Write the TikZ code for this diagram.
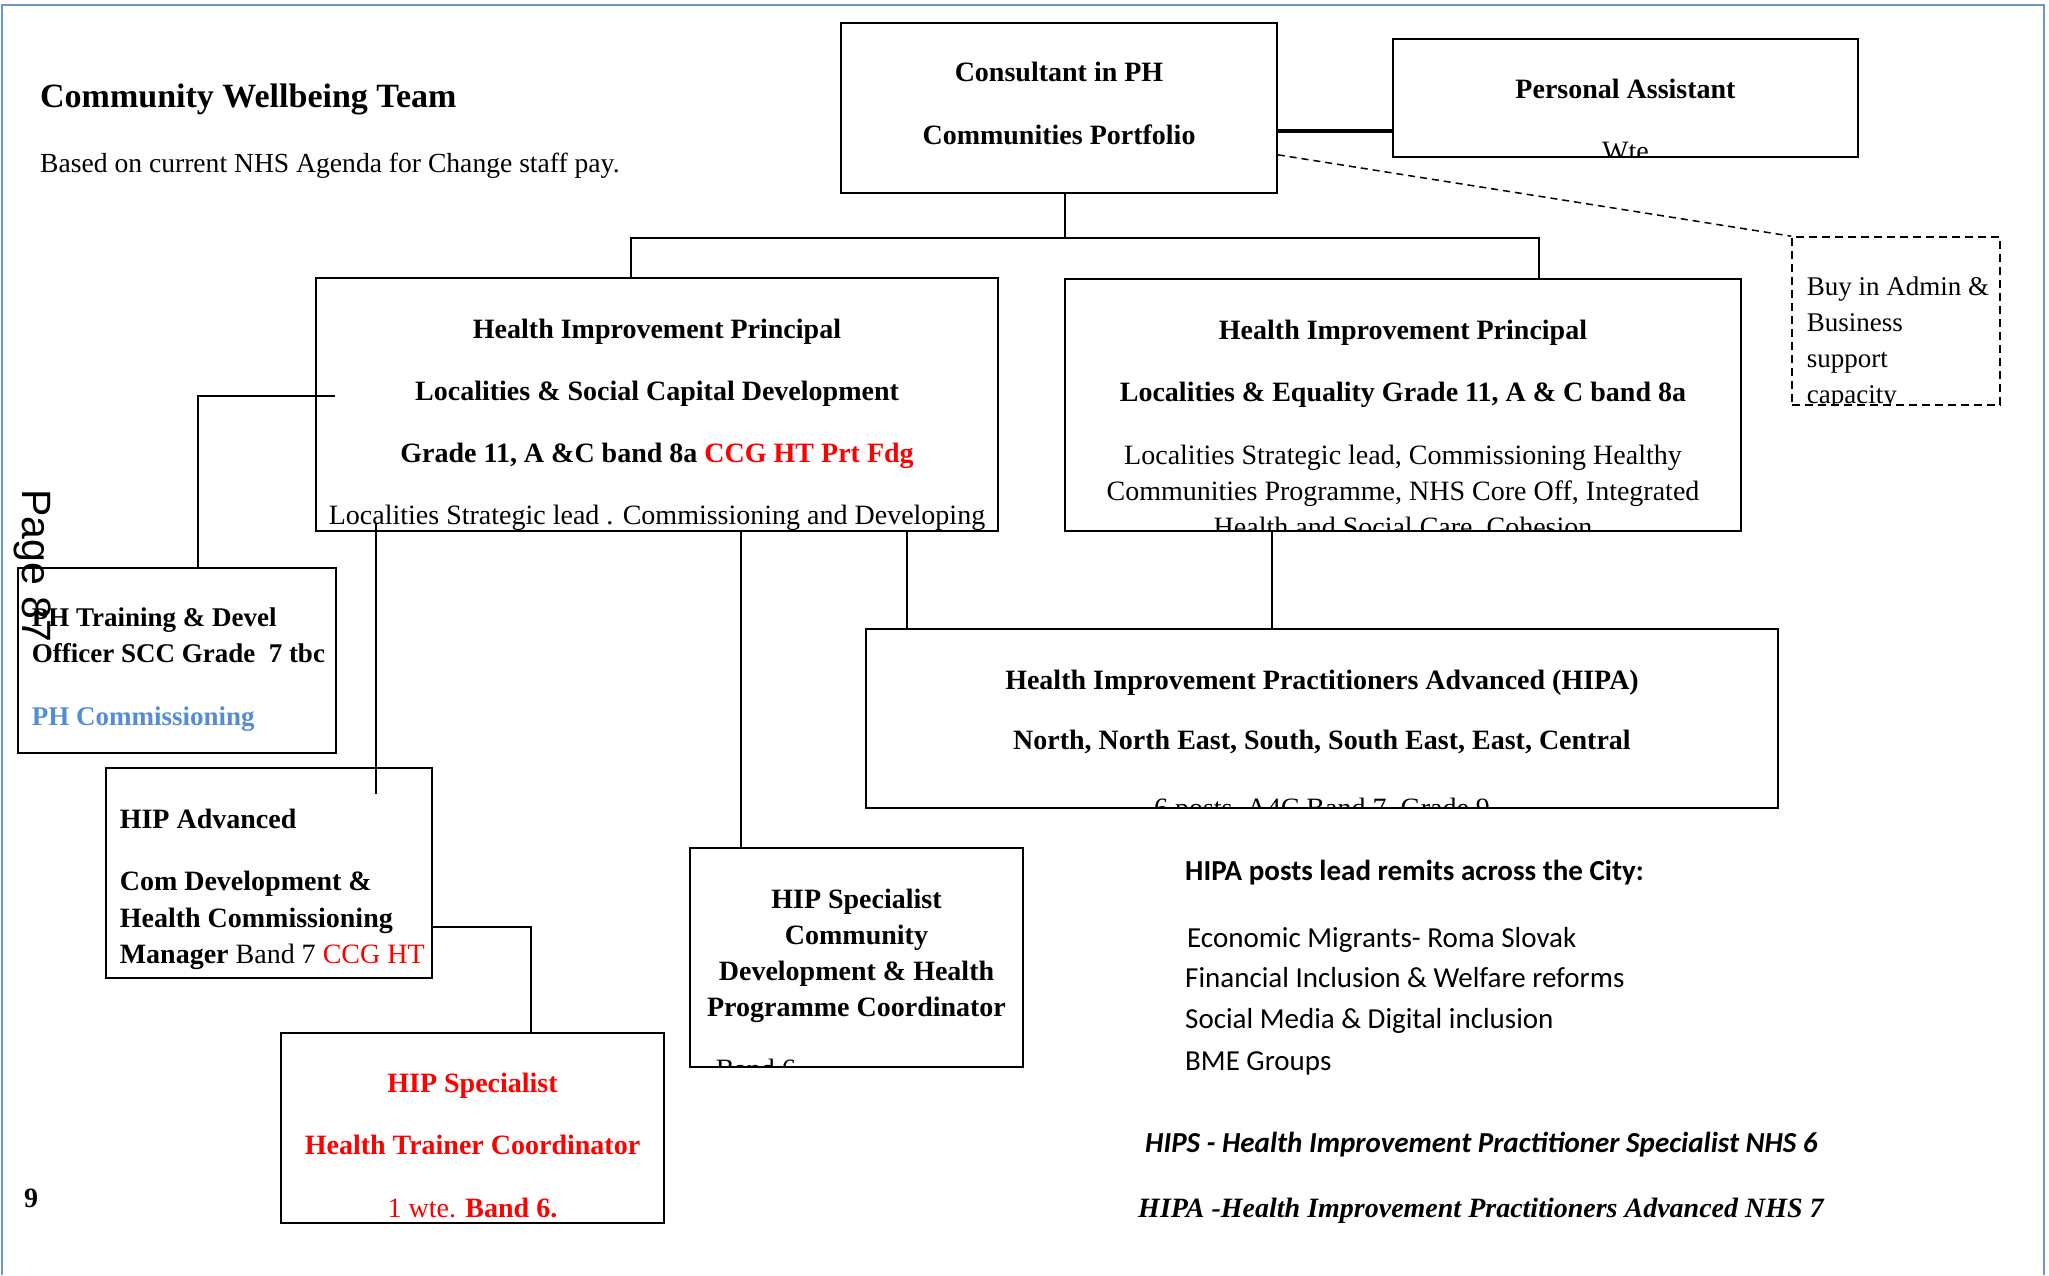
\documentclass[tikz,border=0pt]{standalone}
\usepackage{fontspec}
\setmainfont{Liberation Serif}
\newfontfamily\calibri{Carlito}
\newfontfamily\arialfont{Liberation Sans}
\usetikzlibrary{shapes.geometric, arrows}
\definecolor{pageblue}{RGB}{110,150,205}
\definecolor{commblue}{RGB}{84,141,212}
\tikzstyle{post} = [rectangle, draw=black, line width=1.6pt, inner sep=0pt]
\tikzstyle{buy} = [post, dash pattern=on 8pt off 5pt]
\tikzstyle{txt} = [draw=none, minimum width=0pt, minimum height=0pt, inner sep=0pt, align=center, font=\fontsize{28}{35}\selectfont]
\tikzstyle{ltxt} = [txt, align=left]
\tikzstyle{note} = [draw=none, minimum width=0pt, minimum height=0pt, inner sep=0pt, anchor=base west]
\tikzstyle{link} = [line width=1.5pt]
\tikzstyle{thicklink} = [line width=3.5pt]
\tikzstyle{dashlink} = [line width=1.5pt, dash pattern=on 7pt off 5pt]
\tikzstyle{pageline} = [draw=pageblue, line width=2pt]
\begin{document}
\begin{tikzpicture}[x=1pt, y=-1pt]
\useasboundingbox (0,0) rectangle (2049,1275);
\draw [pageline] (2,1275) -- (2,5) -- (2044,5) -- (2044,1275);

\node (t1) [note, font=\fontsize{34}{40}\selectfont\bfseries] at (40,107) {Community Wellbeing Team};
\node (t2) [note, font=\fontsize{27.6}{35}\selectfont] at (40,172) {Based on current NHS Agenda for Change staff pay.};

\node (n1) [post, minimum width=436pt, minimum height=170pt, path picture={
  \node [txt, anchor=north] at ([yshift=-38pt]path picture bounding box.north)
    {\textbf{Consultant in PH}\\[28pt]\textbf{Communities Portfolio}};
}] at (1059,108) {};
\node (n2) [post, minimum width=465pt, minimum height=118pt, path picture={
  \node [txt, anchor=north] at ([yshift=-39pt]path picture bounding box.north)
    {\textbf{Personal Assistant}\\[27pt]Wte};
}] at (1625.5,98) {};
\node (n3) [buy, minimum width=208pt, minimum height=168pt, path picture={
  \node [ltxt, anchor=north west, font=\fontsize{27}{36}\selectfont] at ([xshift=14pt,yshift=-39pt]path picture bounding box.north west)
    {Buy in Admin \&\\Business\\support\\capacity};
}] at (1896,321) {};
\node (n4) [post, minimum width=682pt, minimum height=253pt, path picture={
  \node [txt, anchor=north] at ([yshift=-40pt]path picture bounding box.north)
    {\textbf{Health Improvement Principal}\\[27pt]
     \textbf{Localities \& Social Capital Development}\\[27pt]
     \textbf{Grade 11, A \&C band 8a \textcolor{red}{CCG HT Prt Fdg}}\\[27pt]
     Localities Strategic lead . Commissioning and Developing};
}] at (657,404.5) {};
\node (n5) [post, minimum width=676pt, minimum height=252pt, path picture={
  \node [txt, anchor=north] at ([yshift=-40pt]path picture bounding box.north)
    {\textbf{Health Improvement Principal}\\[27pt]
     \textbf{Localities \& Equality Grade 11, A \& C band 8a}\\[28pt]
     Localities Strategic lead, Commissioning Healthy\\[1pt]
     Communities Programme, NHS Core Off, Integrated\\[1pt]
     Health and Social Care, Cohesion};
}] at (1403,405) {};
\node (n6) [post, minimum width=318pt, minimum height=185pt, path picture={
  \node [ltxt, anchor=north west, font=\fontsize{27}{36}\selectfont] at ([xshift=13pt,yshift=-39pt]path picture bounding box.north west)
    {\textbf{PH Training \& Devel}\\
     \textbf{Officer SCC Grade\ \ 7 tbc}\\[27pt]
     \textcolor{commblue}{\textbf{PH Commissioning}}};
}] at (177,660.5) {};
\node (n7) [post, minimum width=326pt, minimum height=210pt, path picture={
  \node [ltxt, anchor=north west] at ([xshift=13pt,yshift=-40pt]path picture bounding box.north west)
    {\textbf{HIP Advanced}\\[27pt]
     \textbf{Com Development \&}\\[2pt]
     \textbf{Health Commissioning}\\[1pt]
     \textbf{Manager} Band 7 \textcolor{red}{CCG HT}};
}] at (269,873) {};
\node (n8) [post, minimum width=383pt, minimum height=190pt, path picture={
  \node [txt, anchor=north, text=red] at ([yshift=-39pt]path picture bounding box.north)
    {\textbf{HIP Specialist}\\[27pt]
     \textbf{Health Trainer Coordinator}\\[28pt]
     1 wte. \textbf{Band 6.}};
}] at (472.5,1128) {};
\node (n9) [post, minimum width=333pt, minimum height=219pt, path picture={
  \node [txt, anchor=north] at ([yshift=-40pt]path picture bounding box.north)
    {\textbf{HIP Specialist}\\[1pt]
     \textbf{Community}\\[1pt]
     \textbf{Development \& Health}\\[1pt]
     \textbf{Programme Coordinator}};
  \node [note, font=\fontsize{28}{35}\selectfont] at ([xshift=25pt,yshift=-230pt]path picture bounding box.north west) {Band 6};
}] at (856.5,957.5) {};
\node (n10) [post, minimum width=912pt, minimum height=179pt, path picture={
  \node [txt, anchor=north] at ([yshift=-40pt]path picture bounding box.north)
    {\textbf{Health Improvement Practitioners Advanced (HIPA)}\\[25pt]
     \textbf{North, North East, South, South East, East, Central}\\[33pt]
     6 posts, A4C Band 7, Grade 9};
}] at (1322,718.5) {};

\draw [thicklink] ([yshift=-23pt]n1.east) -- ([yshift=-33pt]n2.west);
\draw [dashlink] ([yshift=39pt]n1.south east) -- (n3.north west);
\draw [link] ([xshift=6pt]n1.south) -- ++(0,44) coordinate (j1);
\draw [link] ([xshift=-26pt]n4.north) |- (j1) -| ([xshift=136pt]n5.north);
\draw [link] ([xshift=20pt,yshift=8.5pt]n4.west) -| ([xshift=21pt]n6.north);
\draw [link] ([xshift=61pt,yshift=9pt]n4.south west) -- ([xshift=271pt,yshift=-27pt]n7.north west);
\draw [link] ([yshift=-54pt]n7.east) -| ([xshift=58.5pt]n8.north);
\draw [link] ([xshift=84pt]n4.south) -- ([xshift=-115.5pt]n9.north);
\draw [link] ([xshift=250pt]n4.south) -- ([xshift=-415pt]n10.north);
\draw [link] ([xshift=-131pt]n5.south) -- ([xshift=-50pt]n10.north);

\node (pg) [note, rotate=-90, font=\arialfont\fontsize{41}{41}\selectfont] at (22,489) {Page 87};
\node (pn) [note, font=\fontsize{28}{35}\selectfont\bfseries] at (24,1207) {9};

\node (r1) [note, font=\calibri\fontsize{29}{35}\selectfont\bfseries] at (1185,880) {HIPA posts lead remits across the City:};
\node (r2) [note, font=\calibri\fontsize{29}{35}\selectfont] at (1187,947) {Economic Migrants- Roma Slovak};
\node (r3) [note, font=\calibri\fontsize{29}{35}\selectfont] at (1185,987) {Financial Inclusion \& Welfare reforms};
\node (r4) [note, font=\calibri\fontsize{29}{35}\selectfont] at (1185,1028) {Social Media \& Digital inclusion};
\node (r5) [note, font=\calibri\fontsize{29}{35}\selectfont] at (1185,1070) {BME Groups};
\node (r6) [note, font=\calibri\fontsize{29}{35}\selectfont\bfseries\itshape] at (1145,1152) {HIPS - Health Improvement Practitioner Specialist NHS 6};
\node (r7) [note, font=\fontsize{28}{35}\selectfont\bfseries\itshape] at (1138,1217) {HIPA -Health Improvement Practitioners Advanced NHS 7};

\end{tikzpicture}
\end{document}
